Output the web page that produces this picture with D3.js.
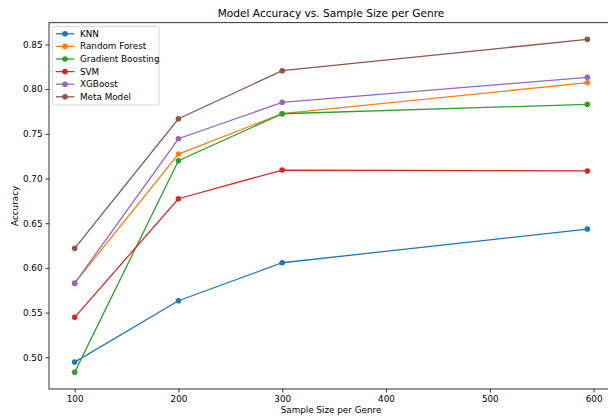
<!DOCTYPE html>
<html><head><meta charset="utf-8">
<script src="https://cdn.jsdelivr.net/npm/d3@7"></script>
<style>
html,body{margin:0;padding:0;background:#fff;overflow:hidden;}
svg{display:block;}
svg text{font-family:"DejaVu Sans",sans-serif;fill:#000;}
</style></head>
<body><svg id="c" width="608" height="416"></svg>
<script>
const sampleSizes = [100, 200, 300, 594];
const seriesNames = ["KNN", "Random Forest", "Gradient Boosting", "SVM", "XGBoost", "Meta Model"];
const knn  = [0.4947, 0.5633, 0.6058, 0.6435];
const rf   = [0.5830, 0.7274, 0.7725, 0.8072];
const gb   = [0.4832, 0.7199, 0.7725, 0.7830];
const svm  = [0.5447, 0.6774, 0.7095, 0.7085];
const xgb  = [0.5828, 0.7445, 0.7852, 0.8132];
const meta = [0.6219, 0.7669, 0.8206, 0.8557];
const xTicks = [100, 200, 300, 400, 500, 600];
const yTicks = [0.50, 0.55, 0.60, 0.65, 0.70, 0.75, 0.80, 0.85];
const colors = ["#1f77b4", "#ff7f0e", "#2ca02c", "#d62728", "#9467bd", "#8c564b"];
const allSeries = [knn, rf, gb, svm, xgb, meta];

const svg = d3.select("#c");
const L = 49, R = 613, T = 22.7, B = 389;
const xmin = d3.min(sampleSizes), xmax = d3.max(sampleSizes);
const xm = (xmax - xmin) * 0.05;
const ally = allSeries.flat();
const ymin = d3.min(ally), ymax = d3.max(ally);
const ym = (ymax - ymin) * 0.05;
const x = d3.scaleLinear().domain([xmin - xm, xmax + xm]).range([L, R]);
const y = d3.scaleLinear().domain([ymin - ym, ymax + ym]).range([B, T]);

const fs = 8.8;
// axes
const gx = svg.append("g").attr("transform", `translate(0,${B})`)
  .call(d3.axisBottom(x).tickValues(xTicks).tickFormat(d3.format("d")).tickSizeOuter(0).tickSize(3.5).tickPadding(3));
const gy = svg.append("g").attr("transform", `translate(${L},0)`)
  .call(d3.axisLeft(y).tickValues(yTicks).tickFormat(d3.format(".2f")).tickSizeOuter(0).tickSize(3.5).tickPadding(3));
[gx, gy].forEach(g => {
  g.select(".domain").remove();
  g.selectAll("line").attr("stroke", "#000").attr("stroke-width", 0.8);
  g.selectAll("text").style("font-size", fs + "px").attr("fill", "#000");
});
// spines
svg.append("rect").attr("x", L).attr("y", T).attr("width", R - L).attr("height", B - T)
  .attr("fill", "none").attr("stroke", "#000").attr("stroke-width", 0.8);

// lines
const line = d3.line().x((d, i) => x(sampleSizes[i])).y(d => y(d));
allSeries.forEach((s, k) => {
  const g = svg.append("g");
  g.append("path").datum(s).attr("d", line).attr("fill", "none")
    .attr("stroke", colors[k]).attr("stroke-width", 1.3);
  g.selectAll("circle").data(s).join("circle")
    .attr("cx", (d, i) => x(sampleSizes[i])).attr("cy", d => y(d)).attr("r", 2.8)
    .attr("fill", colors[k]);
});

// title & labels
svg.append("text").attr("x", (L + R) / 2).attr("y", 17).attr("text-anchor", "middle")
  .style("font-size", "10.6px").text("Model Accuracy vs. Sample Size per Genre");
svg.append("text").attr("x", (L + R) / 2).attr("y", 413).attr("text-anchor", "middle")
  .style("font-size", fs + "px").text("Sample Size per Genre");
svg.append("text").attr("transform", `translate(18,${(T + B) / 2}) rotate(-90)`).attr("text-anchor", "middle")
  .style("font-size", fs + "px").text("Accuracy");

// legend
const lg = svg.append("g").attr("transform", "translate(52.5,26.5)");
lg.append("rect").attr("width", 106.5).attr("height", 78.5).attr("rx", 2)
  .attr("fill", "#fff").attr("fill-opacity", 0.8).attr("stroke", "#d0d0d0").attr("stroke-width", 0.8);
seriesNames.forEach((n, k) => {
  const yy = 7.3 + k * 12.6;
  lg.append("line").attr("x1", 3.3).attr("x2", 21.8).attr("y1", yy).attr("y2", yy)
    .attr("stroke", colors[k]).attr("stroke-width", 1.3);
  lg.append("circle").attr("cx", 12.5).attr("cy", yy).attr("r", 2.8).attr("fill", colors[k]);
  lg.append("text").attr("x", 27.5).attr("y", yy).attr("dy", "0.35em")
    .style("font-size", fs + "px").text(n);
});
</script></body></html>
